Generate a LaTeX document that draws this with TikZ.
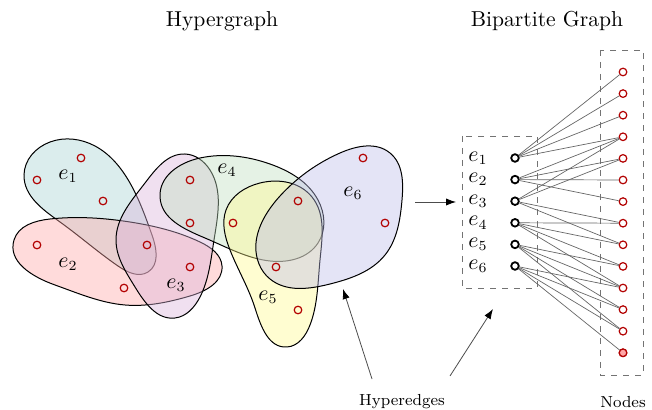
\documentclass[tikz,border=0pt]{standalone}
\usetikzlibrary{arrows.meta,hobby}
\begin{document}
\begin{tikzpicture}[x=0.5pt,y=-0.5pt,use Hobby shortcut,
      hedge/.style = {draw=black, line width=0.5pt, fill opacity=0.4},
      vert/.style = {circle, draw=red!70!black, line width=0.6pt,
        inner sep=0pt, minimum size=3.8pt},
      enode/.style = {circle, draw=black, fill=white, line width=0.9pt,
        inner sep=0pt, minimum size=3.8pt},
      elabel/.style = {inner sep=0pt, font=\fontsize{10.5}{12}\selectfont},
      title/.style = {font=\fontsize{10.8}{13}\selectfont},
      link/.style = {draw=black!60, line width=0.35pt},
      box/.style = {draw=black!55, dashed, line width=0.4pt},
      pointer/.style = {draw=black!70, line width=0.4pt,
        -{Latex[length=5pt,width=3.6pt,color=black]}}]
  \useasboundingbox (0,0) rectangle (652,410);
  % hyperedges
  \draw[hedge, fill=teal!35, closed=true] (24,175) .. (50,142) .. (95,146)
    .. (130,183) .. (152,235) .. (148,272) .. (118,266) .. (60,222);
  \draw[hedge, fill=red!35, closed=true] (14,240) .. (50,219) .. (130,222)
    .. (200,242) .. (222,266) .. (190,296) .. (125,305) .. (55,285);
  \draw[hedge, fill=violet!30, closed=true] (116,240) .. (145,183)
    .. (185,154) .. (210,170) .. (214,240) .. (200,297) .. (175,318)
    .. (135,287);
  \draw[hedge, fill=green!50!black!25, closed=true] (160,197) .. (200,158)
    .. (270,164) .. (318,200) .. (318,243) .. (270,261) .. (205,238);
  \draw[hedge, fill=yellow!45, closed=true] (226,210) .. (260,183)
    .. (312,197) .. (320,260) .. (310,325) .. (287,347) .. (255,308)
    .. (230,250);
  \draw[hedge, fill=blue!50!gray!35, closed=true] (259,264) .. (280,196)
    .. (340,153) .. (390,153) .. (402,200) .. (385,255) .. (330,284)
    .. (270,279);
  % vertices of the hypergraph
  \foreach \name/\pos in {h1/{37,180}, h2/{81,158}, h3/{103,201}, h4/{147,245},
      h5/{37,245}, h6/{124,288}, h7/{190,267}, h8/{190,180}, h9/{190,223},
      h10/{233,223}, h11/{298,201}, h12/{276,267}, h13/{298,310},
      h14/{363,158}, h15/{385,223}}
    \node[vert] (\name) at (\pos) {};
  \node[elabel] (l1) at (68,176) {$e_1$};
  \node[elabel] (l2) at (68,264) {$e_2$};
  \node[elabel] (l3) at (176,285) {$e_3$};
  \node[elabel] (l4) at (227,170) {$e_4$};
  \node[elabel] (l5) at (268,297) {$e_5$};
  \node[elabel] (l6) at (353,193) {$e_6$};
  \node[title] (t1) at (222,21) {Hypergraph};
  \node[title] (t2) at (547,21) {Bipartite Graph};
  % bipartite graph
  \draw[box] (462,136) rectangle (537,288);
  \draw[box] (600,50) rectangle (643,375);
  \foreach \i in {1,...,6} {
    \node[enode] (e\i) at (515,{136.4+21.6*\i}) {};
    \node[elabel] (le\i) at (478,{136.4+21.6*\i}) {$e_\i$};
  }
  \foreach \j in {1,...,14}
    \node[vert] (n\j) at (623,{50.4+21.6*\j}) {};
  \node[vert, fill=red!35] at (n14) {};
  \foreach \i/\js in {1/{1,2,3,4}, 2/{4,5,6,7}, 3/{4,5,8,9},
      4/{8,9,10,11}, 5/{10,11,12,13}, 6/{11,12,13,14}}
    \foreach \j in \js
      \draw[link] (e\i) -- (n\j);
  % arrows and captions
  \node[font=\footnotesize] (hyp) at (402,402) {Hyperedges};
  \node[font=\footnotesize] (nds) at (623,402) {Nodes};
  \coordinate (a1) at (415,202);
  \coordinate (a2) at (456,202);
  \coordinate (s1) at (372,379);
  \coordinate (tip1) at (343,289);
  \coordinate (s2) at (450,376);
  \coordinate (tip2) at (493,309);
  \draw[pointer] (a1) -- (a2);
  \draw[pointer] (s1) -- (tip1);
  \draw[pointer] (s2) -- (tip2);
\end{tikzpicture}
\end{document}
